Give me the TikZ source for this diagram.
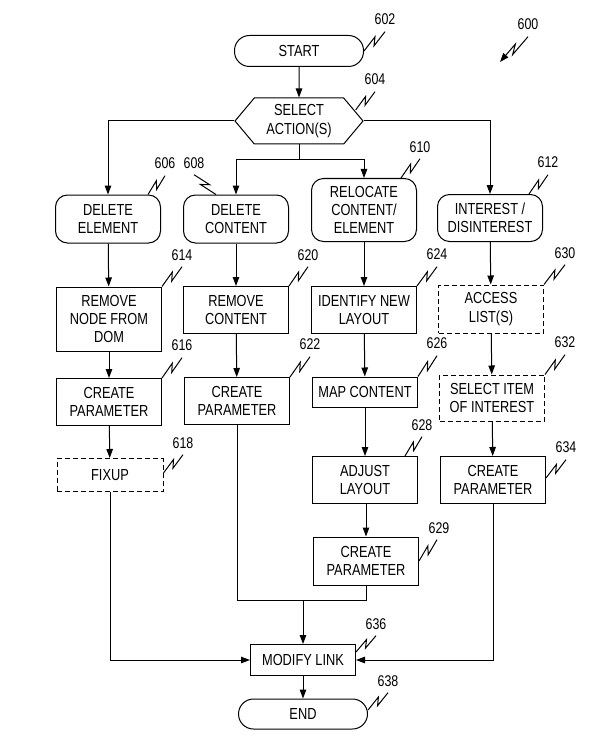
\documentclass[tikz,border=0pt]{standalone}
\usepackage{fontspec}
\setmainfont{Liberation Sans}[FakeStretch=0.8]
\usetikzlibrary{shapes, positioning, arrows.meta, calc}

\tikzset{
  box/.style={draw, line width=1pt, align=center, minimum width=105pt, inner sep=2pt,
    font=\fontsize{16}{18.3}\selectfont},
  terminal/.style={box, rounded corners=15pt, minimum width=129pt, minimum height=31pt},
  action/.style={box, rounded corners=12pt},
  stepbox/.style={box},
  optbox/.style={box, dash pattern=on 5pt off 3pt},
  refnum/.style={font=\fontsize{15.5}{18}\selectfont, inner sep=1pt},
  leader/.style={line width=1pt},
  flow/.style={line width=1pt, -{Triangle[length=9pt,width=6.5pt]}}
}

% leader squiggle from a box to its reference number
\newcommand{\squig}[3][]{\draw[leader,#1] (#2) -- ($(#2)!0.62!(#3)!3pt!90:(#3)$)
  -- ($(#2)!0.38!(#3)!3pt!-90:(#3)$) -- (#3);}

\begin{document}
\begin{tikzpicture}[x=1pt, y=-1pt]
  \useasboundingbox (0,0) rectangle (595,746);

  % boxes
  \node[terminal] (Start) at (299,51) {START};
  \node[box, signal, signal to=west and east, signal pointer angle=100,
        minimum width=128pt, minimum height=46pt] (Sel) at (299,121) {SELECT\\ACTION(S)};

  \node[action, minimum height=48pt] (DelEl) at (108,219) {DELETE\\ELEMENT};
  \node[action, minimum height=48pt] (DelCon) at (236,219) {DELETE\\CONTENT};
  \node[action, minimum height=63pt] (Reloc) at (364,210) {RELOCATE\\CONTENT/\\ELEMENT};
  \node[action, minimum height=47pt] (Inter) at (490,218) {INTEREST /\\DISINTEREST};

  \node[stepbox, minimum height=64pt] (RmNode) at (109,319) {REMOVE\\NODE FROM\\DOM};
  \node[stepbox, minimum height=47pt] (RmCon) at (236,310) {REMOVE\\CONTENT};
  \node[stepbox, minimum height=47pt] (NewLay) at (364,310) {IDENTIFY NEW\\LAYOUT};
  \node[optbox, minimum height=48pt] (Access) at (491,309) {ACCESS\\LIST(S)};

  \node[stepbox, minimum height=47pt] (ParA) at (109,402) {CREATE\\PARAMETER};
  \node[stepbox, minimum height=47pt] (ParB) at (237,401) {CREATE\\PARAMETER};
  \node[stepbox, minimum height=30pt] (Map) at (365,392) {MAP CONTENT};
  \node[optbox, minimum height=46pt] (Item) at (492,398) {SELECT ITEM\\OF INTEREST};

  \node[optbox, minimum height=33pt, minimum width=106pt] (Fixup) at (110,475) {FIXUP};
  \node[stepbox, minimum height=47pt] (Adjust) at (365,480) {ADJUST\\LAYOUT};
  \node[stepbox, minimum height=47pt] (ParD) at (493,480) {CREATE\\PARAMETER};
  \node[stepbox, minimum height=48pt] (ParC) at (366,561) {CREATE\\PARAMETER};

  \node[stepbox, minimum height=31pt] (Modify) at (303,660) {MODIFY LINK};
  \node[terminal, minimum height=30pt] (End) at (303,714) {END};

  % flow
  \coordinate (Fork) at (299,160);
  \coordinate (Join) at (303,600);
  \draw[flow] (Start) -- (Sel);
  \draw[flow] (Sel.west) -| (DelEl.north);
  \draw[flow] (Sel.east) -| (Inter.north);
  \draw[leader] (Sel.south) -- (Fork);
  \draw[flow] (Fork) -| (DelCon.north);
  \draw[flow] (Fork) -| (Reloc.north);

  \draw[flow] (DelEl) -- (RmNode);
  \draw[flow] (RmNode) -- (ParA);
  \draw[flow] (ParA) -- (Fixup);
  \draw[flow] (DelCon) -- (RmCon);
  \draw[flow] (RmCon) -- (ParB);
  \draw[flow] (Reloc) -- (NewLay);
  \draw[flow] (NewLay) -- (Map);
  \draw[flow] (Map) -- (Adjust);
  \draw[flow] (Adjust.south -| ParC) -- (ParC);
  \draw[flow] (Inter) -- (Access);
  \draw[flow] (Access) -- (Item);
  \draw[flow] (Item) -- (ParD);

  \draw[leader] (ParB.south) |- (Join);
  \draw[leader] (ParC.south) |- (Join);
  \draw[flow] (Join) -- (Modify);
  \draw[flow] (Fixup.south) |- (Modify.west);
  \draw[flow] (ParD.south) |- (Modify.east);
  \draw[flow] (Modify) -- (End);

  % reference numbers
  \node[refnum] (L600) at (528,24) {600};
  \node[refnum] (L602) at (385,19) {602};
  \node[refnum] (L604) at (375,79) {604};
  \node[refnum] (L606) at (165,163) {606};
  \node[refnum] (L608) at (194,163) {608};
  \node[refnum] (L610) at (420,147) {610};
  \node[refnum] (L612) at (548,162) {612};
  \node[refnum] (L614) at (182,255) {614};
  \node[refnum] (L620) at (308,255) {620};
  \node[refnum] (L624) at (437,254) {624};
  \node[refnum] (L630) at (565,253) {630};
  \node[refnum] (L616) at (182,345) {616};
  \node[refnum] (L622) at (310,344) {622};
  \node[refnum] (L626) at (437,343) {626};
  \node[refnum] (L632) at (565,342) {632};
  \node[refnum] (L618) at (183,443) {618};
  \node[refnum] (L628) at (422,425) {628};
  \node[refnum] (L634) at (566,447) {634};
  \node[refnum] (L629) at (439,528) {629};
  \node[refnum] (L636) at (376,624) {636};
  \node[refnum] (L638) at (388,681) {638};

  \coordinate (Fig) at (500,62);
  \squig[-{Triangle[length=9pt,width=6.5pt]}]{[yshift=-6pt]L600.south}{Fig}
  \squig{Start.east}{[yshift=-6pt]L602.south}
  \squig{[xshift=-8pt,yshift=11pt]Sel.east}{[yshift=-6pt]L604.south}
  \squig{[xshift=-13pt]DelEl.north east}{[yshift=-6pt]L606.south}
  \squig{[xshift=-20pt]DelCon.north}{[yshift=-5pt]L608.south}
  \squig{[xshift=-16pt]Reloc.north east}{[yshift=-5pt]L610.south}
  \squig{[xshift=-14pt]Inter.north east}{[yshift=-6pt]L612.south}
  \squig{RmNode.north east}{[yshift=-5pt]L614.south}
  \squig{RmCon.north east}{[yshift=-5pt]L620.south}
  \squig{NewLay.north east}{[yshift=-6pt]L624.south}
  \squig{Access.north east}{[yshift=-5pt]L630.south}
  \squig{ParA.north east}{[yshift=-6pt]L616.south}
  \squig{ParB.north east}{[yshift=-6pt]L622.south}
  \squig{Map.north east}{[yshift=-6pt]L626.south}
  \squig{Item.north east}{[yshift=-6pt]L632.south}
  \squig{[yshift=2pt]Fixup.east}{[yshift=-5pt]L618.south}
  \squig{[xshift=-13pt]Adjust.north east}{[yshift=-5pt]L628.south}
  \squig{[yshift=2pt]ParD.east}{[yshift=-6pt]L634.south}
  \squig{ParC.east}{[xshift=-2pt,yshift=-5pt]L629.south}
  \squig{[yshift=-8pt]Modify.north east}{[yshift=-5pt]L636.south}
  \squig{[yshift=4pt]End.east}{[yshift=-5pt]L638.south}
\end{tikzpicture}
\end{document}
